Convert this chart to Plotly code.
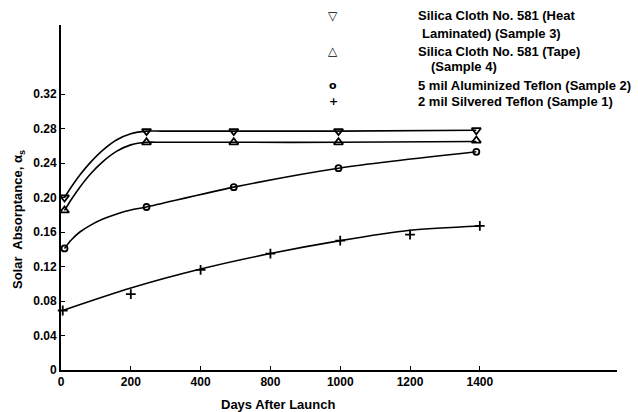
import plotly.graph_objects as go

# ---- data (days after launch, solar absorptance) ----
tick_days = [0, 200, 400, 600, 800, 1000, 1200]
tick_labels = ["0", "200", "400", "800", "1000", "1200", "1400"]
y_ticks = [0, 0.04, 0.08, 0.12, 0.16, 0.20, 0.24, 0.28, 0.32]
y_tick_labels = ["0", "0.04", "0.08", "0.12", "0.16", "0.20", "0.24", "0.28", "0.32"]

s3_days = [10, 245, 495, 795, 1190]
s3_vals = [0.200, 0.277, 0.277, 0.277, 0.278]
s3_curve_days = [10, 30, 54, 85, 120, 160, 200, 245, 290, 495, 795, 1190]
s3_curve_vals = [0.200, 0.2125, 0.226, 0.241, 0.255, 0.267, 0.274, 0.277, 0.277, 0.277, 0.277, 0.278]

s4_days = [10, 245, 495, 795, 1190]
s4_vals = [0.185, 0.264, 0.264, 0.264, 0.266]
s4_curve_days = [10, 30, 54, 85, 120, 160, 200, 245, 290, 495, 795, 1190]
s4_curve_vals = [0.185, 0.198, 0.212, 0.2275, 0.2416, 0.2537, 0.261, 0.264, 0.264, 0.264, 0.264, 0.265]

s2_days = [10, 245, 495, 795, 1190]
s2_vals = [0.141, 0.189, 0.212, 0.234, 0.253]
s2_curve_days = [10, 30, 54, 85, 120, 160, 200, 245, 495, 795, 1190]
s2_curve_vals = [0.141, 0.151, 0.160, 0.168, 0.175, 0.181, 0.1855, 0.189, 0.212, 0.234, 0.253]

s1_days = [5, 200, 400, 600, 800, 1000, 1200]
s1_vals = [0.069, 0.088, 0.116, 0.135, 0.150, 0.157, 0.167]
s1_curve_days = [5, 200, 400, 600, 800, 1000, 1200]
s1_curve_vals = [0.069, 0.095, 0.117, 0.135, 0.150, 0.162, 0.167]

legend_lines = [
    ("\u25BD", "Silica Cloth No. 581 (Heat", "Laminated) (Sample 3)", 4),
    ("\u25B3", "Silica Cloth No. 581 (Tape)", "(Sample 4)", 13),
    ("o", "5 mil Aluminized Teflon (Sample 2)", None, 0),
    ("+", "2 mil Silvered Teflon (Sample 1)", None, 0),
]

FONT = "Liberation Sans, Arial, sans-serif"
fig = go.Figure()

curves = [
    (s3_curve_days, s3_curve_vals),
    (s4_curve_days, s4_curve_vals),
    (s2_curve_days, s2_curve_vals),
    (s1_curve_days, s1_curve_vals),
]
for cx, cy in curves:
    fig.add_trace(go.Scatter(x=cx, y=cy, mode="lines",
                             line=dict(color="black", width=1.6, shape="spline", smoothing=0.8),
                             showlegend=False, hoverinfo="skip"))

markers = [
    (s3_days, s3_vals, "triangle-down-open", 8),
    (s4_days, s4_vals, "triangle-up-open", 8),
    (s2_days, s2_vals, "circle-open", 6),
    (s1_days, s1_vals, "cross-thin-open", 7),
]
for mx, my, sym, sz in markers:
    fig.add_trace(go.Scatter(x=mx, y=my, mode="markers",
                             marker=dict(symbol=sym, size=sz, color="black",
                                         line=dict(color="black", width=1.8)),
                             showlegend=False, cliponaxis=False))

# plot area in pixels: x 61..617, y 25..370
L, R, T, B = 61, 617, 25, 370
def px_x(p):
    return (p - L) / (R - L)
def px_y(p):
    return (B - p) / (B - T)

ann = []
rows_y = [16, 51, 85, 101]
second_y = [33, 67]
for i, (sym, l1, l2, indent) in enumerate(legend_lines):
    y = rows_y[i]
    symsize = 12 if sym in ("\u25BD", "\u25B3") else 11
    ann.append(dict(x=px_x(333), y=px_y(y), xref="paper", yref="paper", text="<b>%s</b>" % sym,
                    showarrow=False, xanchor="center", yanchor="middle",
                    font=dict(family="DejaVu Sans, " + FONT, size=symsize, color="black")))
    ann.append(dict(x=px_x(416), y=px_y(y), xref="paper", yref="paper", text="<b>%s</b>" % l1,
                    showarrow=False, xanchor="left", yanchor="middle",
                    font=dict(family=FONT, size=13, color="black")))
    if l2:
        ann.append(dict(x=px_x(416 + indent), y=px_y(second_y[i]), xref="paper", yref="paper",
                        text="<b>%s</b>" % l2, showarrow=False, xanchor="left", yanchor="middle",
                        font=dict(family=FONT, size=13, color="black")))

ann.append(dict(x=px_x(18), y=px_y(220), xref="paper", yref="paper",
                text="<b>Solar  Absorptance, \u03B1<sub>s</sub></b>", textangle=-90,
                showarrow=False, xanchor="center", yanchor="middle",
                font=dict(family=FONT, size=13, color="black")))
ann.append(dict(x=px_x(278), y=px_y(404), xref="paper", yref="paper",
                text="<b>Days After Launch</b>", showarrow=False,
                xanchor="center", yanchor="middle",
                font=dict(family=FONT, size=13, color="black")))

fig.update_layout(
    width=638, height=412,
    margin=dict(l=L, r=638 - R, t=T, b=412 - B),
    paper_bgcolor="white", plot_bgcolor="white",
    showlegend=False,
    annotations=ann,
    font=dict(family=FONT, color="black"),
)
fig.update_xaxes(range=[0, 1593], tickvals=tick_days, ticktext=["<b>%s</b>" % t for t in tick_labels],
                 showgrid=False, zeroline=False, showline=True, linecolor="black", linewidth=2,
                 ticks="inside", ticklen=4, tickwidth=1, tickcolor="black",
                 tickfont=dict(family=FONT, size=12, color="black"))
fig.update_yaxes(range=[0, 0.4], tickvals=y_ticks, ticktext=["<b>%s</b>" % t for t in y_tick_labels],
                 showgrid=False, zeroline=False, showline=True, linecolor="black", linewidth=2,
                 ticks="inside", ticklen=4, tickwidth=1, tickcolor="black",
                 tickfont=dict(family=FONT, size=12, color="black"))

fig.write_html("out.html", config={"displayModeBar": False},
               post_script="document.body.style.margin='0';document.body.style.overflow='hidden';")
